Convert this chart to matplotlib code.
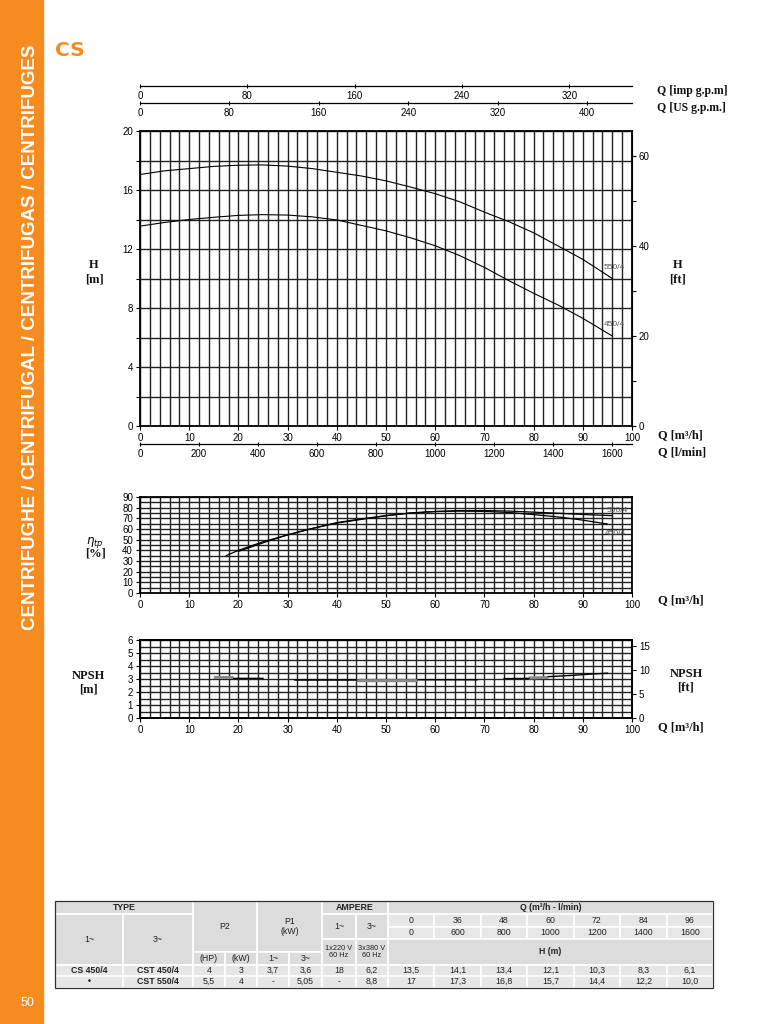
"""CS pump performance sheet: head, efficiency and NPSH curves plus the data table."""
import matplotlib
matplotlib.use("Agg")
import matplotlib.pyplot as plt  # noqa: E402
import numpy as np  # noqa: E402
from matplotlib.patches import Rectangle  # noqa: E402
from matplotlib.ticker import MultipleLocator, NullLocator  # noqa: E402

W, H = 768, 1024
ORANGE = "#F68B1F"
GRID = "#222222"
CELL_HEAD, CELL_DATA = "#dcdcdc", "#e6e6e6"
SERIF = ["Liberation Serif", "DejaVu Serif"]
plt.rcParams["font.family"] = ["Liberation Sans", "DejaVu Sans"]

# unit conversions for the extra scales
LMIN_PER_M3H = 1000 / 60
IMP_GAL, US_GAL, FT_PER_M = 4.54609, 3.78541, 3.28084

# head curves H [m] vs Q [m3/h]
q_head = [0, 5, 10, 15, 20, 25, 30, 35, 40, 45, 50, 55, 60, 65, 70, 75, 80, 85, 90, 96]
h_550 = [17.05, 17.3, 17.45, 17.6, 17.68, 17.7, 17.62, 17.45, 17.2, 16.95, 16.62, 16.2,
         15.75, 15.2, 14.5, 13.85, 13.1, 12.2, 11.3, 10.0]
h_450 = [13.55, 13.8, 14.0, 14.15, 14.28, 14.33, 14.3, 14.18, 13.97, 13.6, 13.23, 12.76,
         12.22, 11.55, 10.75, 9.85, 9.0, 8.2, 7.3, 6.1]

# efficiency [%]
q_eff_450 = [17.5, 20, 25, 30, 35, 40, 45, 50, 55, 60, 65, 70, 75, 80, 85, 90, 95]
eff_450 = [35, 40, 48, 54.5, 60.5, 66, 69.5, 72.5, 75, 76.3, 76.8, 76.5, 75.5, 73.5, 71.3,
           68.3, 64.7]
q_eff_550 = [20, 25, 30, 35, 40, 45, 50, 55, 60, 65, 70, 75, 80, 85, 90, 96]
eff_550 = [39, 47, 54.5, 60.5, 65.5, 69, 72.5, 75, 76.5, 77.2, 77.3, 76.8, 75.8, 74.8,
           73.6, 72.5]

# NPSH [m], drawn in broken segments as in the sheet
nan = np.nan
npsh_q_black = [19, 25, nan, 31.5, 44, nan, 56.5, 68.5, nan, 74, 79, nan, 83, 87, 91, 95]
npsh_black = [3.05, 3.05, nan, 2.92, 2.92, nan, 2.94, 2.94, nan, 3.03, 3.05, nan, 3.18,
              3.26, 3.36, 3.45]
npsh_q_grey = [15, 19, nan, 44, 56.5, nan, 79, 83]
npsh_grey = [3.12, 3.12, nan, 2.87, 2.87, nan, 3.08, 3.12]

# table
type_1ph = ["CS 450/4", "•"]
type_3ph = ["CST 450/4", "CST 550/4"]
p2_hp = ["4", "5,5"]
p2_kw = ["3", "4"]
p1_1ph = ["3,7", "-"]
p1_3ph = ["3,6", "5,05"]
amp_1ph = ["18", "-"]
amp_3ph = ["6,2", "8,8"]
q_table_m3h = ["0", "36", "48", "60", "72", "84", "96"]
q_table_lmin = ["0", "600", "800", "1000", "1200", "1400", "1600"]
h_table_450 = ["13,5", "14,1", "13,4", "12,1", "10,3", "8,3", "6,1"]
h_table_550 = ["17", "17,3", "16,8", "15,7", "14,4", "12,2", "10,0"]

fig = plt.figure(figsize=(W / 100, H / 100), dpi=100)


def px_axes(x0, y0, x1, y1):
    return fig.add_axes([x0 / W, 1 - y1 / H, (x1 - x0) / W, (y1 - y0) / H])


def ftext(x, y, s, **kw):
    kw.setdefault("ha", "center")
    kw.setdefault("va", "center")
    return fig.text(x / W, 1 - y / H, s, **kw)


def label(x, y, s, ha="left", size=9):
    ftext(x, y, s, ha=ha, family=SERIF, fontweight="bold", fontsize=size, color="#111")


def grid_axes(ax, ymax, ymajor, yminor):
    ax.set_xlim(0, 100)
    ax.set_ylim(0, ymax)
    ax.xaxis.set_major_locator(MultipleLocator(10))
    ax.xaxis.set_minor_locator(MultipleLocator(2))
    ax.yaxis.set_major_locator(MultipleLocator(ymajor))
    ax.yaxis.set_minor_locator(MultipleLocator(yminor))
    ax.grid(which="both", color=GRID, lw=1.0)
    ax.set_axisbelow(True)
    ax.tick_params(which="major", direction="out", length=3, width=0.8, labelsize=7, pad=2)
    ax.tick_params(which="minor", length=0)
    for s in ax.spines.values():
        s.set_linewidth(1.3)


def secondary_style(sec, major):
    sec.xaxis.set_major_locator(MultipleLocator(major))
    sec.xaxis.set_minor_locator(NullLocator())
    sec.tick_params(direction="inout", length=3, width=0.8, labelsize=7, pad=2)
    for s in sec.spines.values():
        s.set_linewidth(0.9)


# side band and page furniture
fig.patches.append(Rectangle((0, 0), 43 / W, 1, transform=fig.transFigure,
                             color=ORANGE, zorder=0))
ftext(31, 337, "CENTRIFUGHE / CENTRIFUGAL / CENTRIFUGAS / CENTRIFUGES", rotation=90,
      color="white", fontsize=13.5, fontweight="bold")
ftext(27, 1003, "50", color="white", fontsize=9)
ftext(55, 50, "CS", ha="left", color=ORANGE, fontsize=14.5, fontweight="heavy",
      family=["DejaVu Sans"])

# ---- head chart
ax = px_axes(140, 131, 632, 426)
grid_axes(ax, 20, 4, 2)
ax.tick_params(axis="y", which="minor", length=3, width=0.8)
ax.plot(q_head, h_550, color="black", lw=0.8)
ax.plot(q_head, h_450, color="black", lw=0.8)
for qs, hs, name in [(q_head, h_550, "550/4"), (q_head, h_450, "450/4")]:
    ax.annotate(name, (qs[-1], hs[-1]), xytext=(-6, 8), textcoords="offset points",
                fontsize=6, color="#555", ha="left", va="center")

ft_axis = ax.secondary_yaxis("right", functions=(lambda m: m * FT_PER_M,
                                                 lambda f: f / FT_PER_M))
ft_axis.yaxis.set_major_locator(MultipleLocator(20))
ft_axis.yaxis.set_minor_locator(MultipleLocator(10))
ft_axis.tick_params(which="both", direction="out", length=3, width=0.8, labelsize=7, pad=2)

imp = ax.secondary_xaxis((426 - 86) / 295, functions=(
    lambda q: q * LMIN_PER_M3H / IMP_GAL, lambda g: g * IMP_GAL / LMIN_PER_M3H))
imp.set_alignment("bottom")
secondary_style(imp, 80)
usg = ax.secondary_xaxis((426 - 103) / 295, functions=(
    lambda q: q * LMIN_PER_M3H / US_GAL, lambda g: g * US_GAL / LMIN_PER_M3H))
usg.set_alignment("bottom")
secondary_style(usg, 80)
lmin = ax.secondary_xaxis(-(444 - 426) / 295, functions=(
    lambda q: q * LMIN_PER_M3H, lambda l: l / LMIN_PER_M3H))
secondary_style(lmin, 200)

label(657, 91, "Q [imp g.p.m]", size=8.5)
label(657, 108, "Q [US g.p.m.]", size=8.5)
label(658, 435, "Q [m³/h]", size=8.8)
label(658, 452, "Q [l/min]", size=8.8)
label(94, 265, "H", ha="center")
label(94, 279, "[m]", ha="center")
label(678, 265, "H", ha="center")
label(678, 279, "[ft]", ha="center")

# ---- efficiency chart
ax2 = px_axes(140, 497, 632, 593)
grid_axes(ax2, 90, 10, 5)
ax2.plot(q_eff_550, eff_550, color="black", lw=0.9)
ax2.plot(q_eff_450, eff_450, color="black", lw=0.9)
ax2.annotate("550/4", (q_eff_550[-1], eff_550[-1]), xytext=(-4, 4),
             textcoords="offset points", fontsize=6, color="#555", va="center")
ax2.annotate("450/4", (q_eff_450[-1], eff_450[-1]), xytext=(-2, -7),
             textcoords="offset points", fontsize=6, color="#555", va="center")
ftext(95, 542, r"$\eta_{tp}$", fontsize=8.5)
label(95, 553, "[%]", ha="center")
label(658, 600, "Q [m³/h]")

# ---- NPSH chart
ax3 = px_axes(140, 640, 632, 718)
grid_axes(ax3, 6, 1, 0.5)
ax3.plot(npsh_q_grey, npsh_grey, color="#8a8a8a", lw=2.2, solid_capstyle="butt")
ax3.plot(npsh_q_black, npsh_black, color="black", lw=1.0)
ft3 = ax3.twinx()
ft3.set_ylim(0, 16.3)
ft3.yaxis.set_major_locator(MultipleLocator(5))
ft3.tick_params(direction="out", length=3, width=0.8, labelsize=7, pad=2)
for s in ft3.spines.values():
    s.set_linewidth(1.3)
label(88, 676, "NPSH", ha="center")
label(88, 690, "[m]", ha="center")
label(686, 674, "NPSH", ha="center")
label(686, 688, "[ft]", ha="center")
label(658, 727, "Q [m³/h]")

# ---- data table
tab = fig.add_axes([0, 0, 1, 1])
tab.set_xlim(0, W)
tab.set_ylim(H, 0)
tab.axis("off")
TX = [55, 123, 193, 225, 257, 289, 322, 356, 388]
QX = np.linspace(388, 713, 8)
TY = [901, 914, 926.5, 939, 952, 964.5, 976, 987.5]


def cell(x0, x1, y0, y1, text="", bold=False, fc=CELL_HEAD, size=6.3):
    tab.add_patch(Rectangle((x0, y0), x1 - x0, y1 - y0, facecolor=fc,
                            edgecolor="white", lw=1.2))
    if text:
        tab.text((x0 + x1) / 2, (y0 + y1) / 2, text, ha="center", va="center",
                 fontsize=size, fontweight="bold" if bold else "normal", color="#222",
                 linespacing=1.1)


cell(TX[0], TX[2], TY[0], TY[1], "TYPE", bold=True)
cell(TX[0], TX[1], TY[1], TY[5], "1~")
cell(TX[1], TX[2], TY[1], TY[5], "3~")
cell(TX[2], TX[4], TY[0], TY[4], "P2")
cell(TX[2], TX[3], TY[4], TY[5], "(HP)")
cell(TX[3], TX[4], TY[4], TY[5], "(kW)")
cell(TX[4], TX[6], TY[0], TY[4], "P1\n(kW)")
cell(TX[4], TX[5], TY[4], TY[5], "1~")
cell(TX[5], TX[6], TY[4], TY[5], "3~")
cell(TX[6], TX[8], TY[0], TY[1], "AMPERE", bold=True)
cell(TX[6], TX[7], TY[1], TY[3], "1~")
cell(TX[7], TX[8], TY[1], TY[3], "3~")
cell(TX[6], TX[7], TY[3], TY[5], "1x220 V\n60 Hz", size=5.3)
cell(TX[7], TX[8], TY[3], TY[5], "3x380 V\n60 Hz", size=5.3)
cell(QX[0], QX[-1], TY[0], TY[1], "Q (m³/h - l/min)", bold=True)
for i in range(len(q_table_m3h)):
    cell(QX[i], QX[i + 1], TY[1], TY[2], q_table_m3h[i], fc=CELL_DATA)
    cell(QX[i], QX[i + 1], TY[2], TY[3], q_table_lmin[i], fc=CELL_DATA)
cell(QX[0], QX[-1], TY[3], TY[5], "H (m)", bold=True)

for r, h_row in enumerate([h_table_450, h_table_550]):
    y0, y1 = TY[5 + r], TY[6 + r]
    left = [type_1ph[r], type_3ph[r], p2_hp[r], p2_kw[r], p1_1ph[r], p1_3ph[r],
            amp_1ph[r], amp_3ph[r]]
    for c, txt in enumerate(left):
        cell(TX[c], TX[c + 1], y0, y1, txt, bold=c < 2, fc=CELL_DATA)
    for i, txt in enumerate(h_row):
        cell(QX[i], QX[i + 1], y0, y1, txt, fc=CELL_DATA)
tab.add_patch(Rectangle((TX[0], TY[0]), QX[-1] - TX[0], TY[-1] - TY[0], fill=False,
                        edgecolor="#333", lw=0.9))

fig.savefig("out.png", dpi=100)
